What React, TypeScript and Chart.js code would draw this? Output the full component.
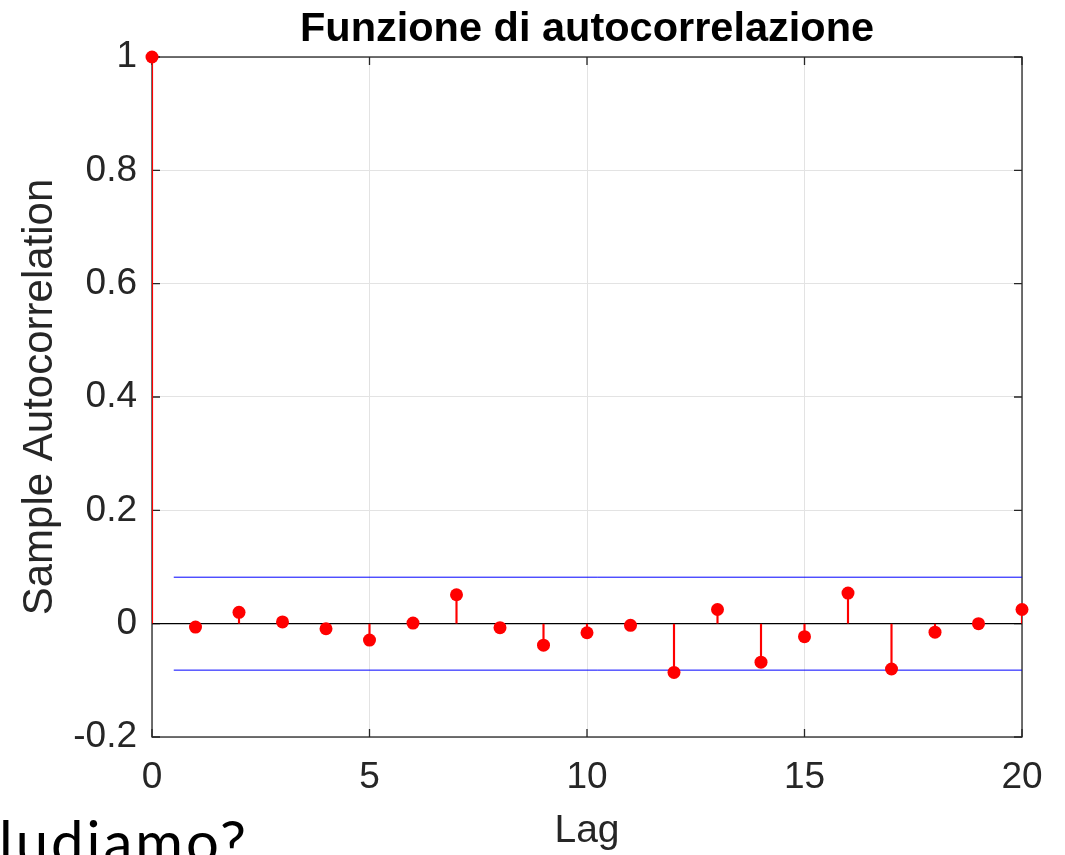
import React, { useEffect, useRef } from "react";
import { Chart, registerables } from "chart.js";

Chart.register(...registerables);

// ---- data ----
const lags = [0, 1, 2, 3, 4, 5, 6, 7, 8, 9, 10, 11, 12, 13, 14, 15, 16, 17, 18, 19, 20];
const acfValues = [
  1, -0.006, 0.02, 0.003, -0.009, -0.029, 0.001, 0.051, -0.007, -0.038, -0.016,
  -0.003, -0.086, 0.025, -0.068, -0.023, 0.054, -0.08, -0.015, 0.0, 0.025,
];
const confBound = 0.082;
const boundLags = [0.5, 20];
const zeroLineLags = [0, 20];
const xTicks = [0, 5, 10, 15, 20];
const yTicks = [-0.2, 0, 0.2, 0.4, 0.6, 0.8, 1];
const chartTitle = "Funzione di autocorrelazione";
const xLabel = "Lag";
const yLabel = "Sample Autocorrelation";
const overlayText = "ludiamo?";

const FONT = "'Liberation Sans', Arial, Helvetica, sans-serif";
const AXIS_COLOR = "#262626";
const GRID_COLOR = "#e3e3e3";

const boxPlugin = {
  id: "matlabBox",
  beforeDatasetsDraw(chart: any) {
    const { ctx, chartArea, scales } = chart;
    const { left, right, top, bottom } = chartArea;
    const x = scales.x;
    const y = scales.y;
    ctx.save();
    ctx.strokeStyle = AXIS_COLOR;
    ctx.lineWidth = 1.3;
    ctx.strokeRect(left, top, right - left, bottom - top);
    const tl = 8;
    ctx.beginPath();
    xTicks.forEach((v) => {
      const px = x.getPixelForValue(v);
      ctx.moveTo(px, bottom);
      ctx.lineTo(px, bottom - tl);
      ctx.moveTo(px, top);
      ctx.lineTo(px, top + tl);
    });
    yTicks.forEach((v) => {
      const py = y.getPixelForValue(v);
      ctx.moveTo(left, py);
      ctx.lineTo(left + tl, py);
      ctx.moveTo(right, py);
      ctx.lineTo(right - tl, py);
    });
    ctx.stroke();
    ctx.restore();
  },
};

export default function App() {
  const canvasRef = useRef<HTMLCanvasElement | null>(null);

  useEffect(() => {
    const canvas = canvasRef.current;
    if (!canvas) return;

    const points = lags.map((l, i) => ({ x: l, y: acfValues[i] }));

    const chart = new Chart(canvas, {
      type: "scatter",
      data: {
        datasets: [
          {
            type: "scatter",
            label: "acf points",
            data: points,
            pointRadius: 6.5,
            pointBackgroundColor: "#ff0000",
            pointBorderWidth: 0,
            pointBorderColor: "#ff0000",
            clip: false,
            order: 0,
          } as any,
          {
            type: "bar",
            label: "stems",
            data: points,
            backgroundColor: "#ff0000",
            borderWidth: 0,
            barThickness: 1.5,
            grouped: false,
            order: 1,
          } as any,
          {
            type: "line",
            label: "zero",
            data: zeroLineLags.map((l) => ({ x: l, y: 0 })),
            borderColor: "#000000",
            borderWidth: 1.4,
            pointRadius: 0,
            order: 2,
          } as any,
          {
            type: "line",
            label: "upper",
            data: boundLags.map((l) => ({ x: l, y: confBound })),
            borderColor: "#0000ff",
            borderWidth: 1,
            pointRadius: 0,
            order: 3,
          } as any,
          {
            type: "line",
            label: "lower",
            data: boundLags.map((l) => ({ x: l, y: -confBound })),
            borderColor: "#0000ff",
            borderWidth: 1,
            pointRadius: 0,
            order: 3,
          } as any,
        ],
      },
      options: {
        animation: false,
        responsive: false,
        events: [],
        layout: { padding: { left: 0, right: 43, top: 0, bottom: 0 } },
        plugins: {
          legend: { display: false },
          tooltip: { enabled: false },
          title: { display: false },
        },
        scales: {
          x: {
            type: "linear",
            position: "bottom",
            min: 0,
            max: 20,
            offset: false,
            afterBuildTicks: (s: any) => {
              s.ticks = xTicks.map((v) => ({ value: v }));
            },
            afterFit: (s: any) => {
              s.height = 118;
            },
            grid: { color: GRID_COLOR, lineWidth: 1, drawTicks: false, offset: false },
            border: { display: false },
            ticks: {
              font: { family: FONT, size: 37 },
              color: AXIS_COLOR,
              padding: 19,
              maxRotation: 0,
              autoSkip: false,
              callback: (v: any) => String(v),
            },
            title: {
              display: true,
              text: xLabel,
              font: { family: FONT, size: 39 },
              color: AXIS_COLOR,
              padding: { top: 0, bottom: 0 },
            },
          },
          xTop: {
            type: "linear",
            position: "top",
            min: 0,
            max: 20,
            afterFit: (s: any) => {
              s.height = 57;
            },
            grid: { display: false, drawTicks: false },
            border: { display: false },
            ticks: { display: false },
            title: {
              display: true,
              text: chartTitle,
              font: { family: FONT, size: 41.5, weight: "bold" },
              color: "#000000",
              padding: { top: 5, bottom: 0 },
            },
          },
          y: {
            type: "linear",
            position: "left",
            min: -0.2,
            max: 1,
            afterBuildTicks: (s: any) => {
              s.ticks = yTicks.map((v) => ({ value: v }));
            },
            afterFit: (s: any) => {
              s.width = 152;
            },
            grid: { color: GRID_COLOR, lineWidth: 1, drawTicks: false },
            border: { display: false },
            ticks: {
              font: { family: FONT, size: 37 },
              color: AXIS_COLOR,
              padding: 15,
              callback: (v: any) => String(Math.round(Number(v) * 10) / 10),
            },
            title: {
              display: true,
              text: yLabel,
              font: { family: FONT, size: 42 },
              color: AXIS_COLOR,
              padding: { top: 15, bottom: 0 },
            },
          },
        },
      } as any,
      plugins: [boxPlugin],
    });

    return () => chart.destroy();
  }, []);

  return (
    <div
      style={{
        position: "fixed",
        left: 0,
        top: 0,
        width: 1065,
        height: 855,
        overflow: "hidden",
        background: "#ffffff",
      }}
    >
      <canvas
        ref={canvasRef}
        width={1065}
        height={855}
        style={{ position: "absolute", left: 0, top: 0, width: 1065, height: 855 }}
      />
      <div
        style={{
          position: "absolute",
          left: -1,
          top: 812,
          fontFamily: "Lato, 'Noto Sans', sans-serif",
          fontSize: 58,
          lineHeight: "58px",
          letterSpacing: 3,
          color: "#000000",
          whiteSpace: "nowrap",
        }}
      >
        {overlayText}
      </div>
    </div>
  );
}
